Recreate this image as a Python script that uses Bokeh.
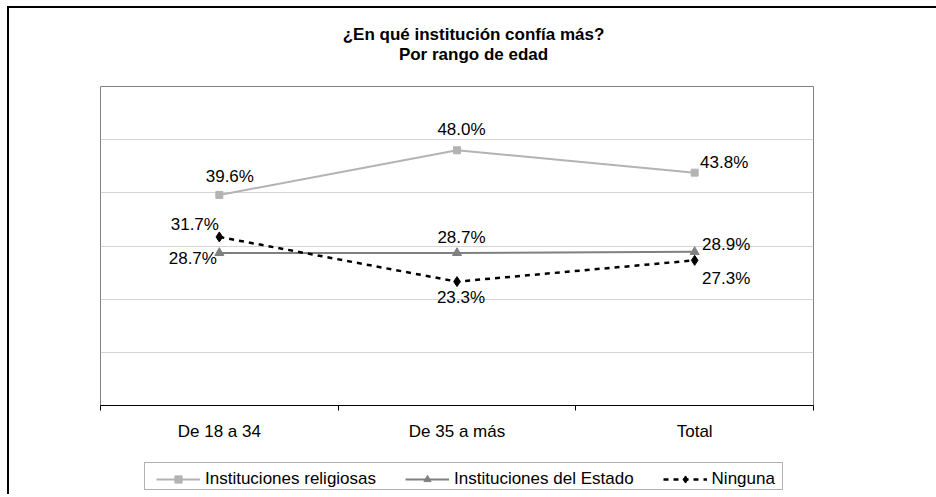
from bokeh.plotting import figure
from bokeh.layouts import column
from bokeh.models import (Range1d, FixedTicker, Legend, LegendItem,
                          ColumnDataSource, BoxAnnotation)
from bokeh.core.properties import value
from bokeh.embed import file_html
from bokeh.resources import INLINE

# ---- data -------------------------------------------------------------
categories = ["De 18 a 34", "De 35 a más", "Total"]
religiosas = [39.6, 48.0, 43.8]
estado = [28.7, 28.7, 28.9]
ninguna = [31.7, 23.3, 27.3]
series_names = ["Instituciones religiosas", "Instituciones del Estado", "Ninguna"]
title_lines = ["¿En qué institución confía más?", "Por rango de edad"]
y_grid_ticks = [10, 20, 30, 40, 50]
y_max = 60

# ---- label placement (screen px offsets, y down) ------------------------
label_dx = {
    "rel": [10.5, 4.5, 29.5],
    "est": [-26.5, 4.5, 31.5],
    "nin": [-24.5, 4.0, 31.5],
}
label_dy = {
    "rel": [-18, -21, -10],
    "est": [6, -15, -7],
    "nin": [-12, 16, 18],
}

FONT = "Liberation Sans"
W = 928
TITLE_H = 76
H = 364
LEG_H = 46
FL, FR, FT, FB = 91, 124, 2, 43
FRAME_W = W - FL - FR
PAGE_X0 = 8 + FL          # page x of the (aligned) frame's left edge
LEG_Y0 = 8 + TITLE_H + H  # page y of the legend strip's top

# ---- title strip (frame is aligned with the main chart's frame) ---------
tf = figure(width=W, height=TITLE_H, output_backend="svg", toolbar_location=None,
            x_range=Range1d(0, FRAME_W), y_range=Range1d(TITLE_H, 0),
            x_axis_location=None, y_axis_location=None,
            min_border_left=FL, min_border_right=FR, min_border_top=0, min_border_bottom=0)
tf.outline_line_color = None
tf.xgrid.visible = False
tf.ygrid.visible = False
title_cx = 472 - PAGE_X0
tsrc = ColumnDataSource(dict(x=[title_cx, title_cx], y=[26, 46], t=title_lines))
tf.text("x", "y", text="t", source=tsrc, text_font=value(FONT), text_font_size="17px",
        text_font_style="bold", text_color="#000000",
        text_align="center", text_baseline="middle")

# ---- main chart ---------------------------------------------------------
xs = list(range(len(categories)))

p = figure(width=W, height=H, output_backend="svg", toolbar_location=None,
           x_range=Range1d(-0.5, len(categories) - 0.5),
           y_range=Range1d(0, y_max), y_axis_location=None,
           min_border_left=FL, min_border_right=FR,
           min_border_top=FT, min_border_bottom=FB)
p.background_fill_color = "white"
p.border_fill_color = "white"
p.outline_line_color = "#808080"
p.outline_line_width = 1

p.xgrid.visible = False
p.ygrid.ticker = FixedTicker(ticks=y_grid_ticks)
p.ygrid.grid_line_color = "#D4D4D4"
p.ygrid.grid_line_width = 1

ax = p.xaxis[0]
ax.ticker = FixedTicker(ticks=xs, minor_ticks=[i - 0.5 for i in range(len(categories) + 1)])
ax.major_label_overrides = {i: c for i, c in zip(xs, categories)}
ax.axis_line_color = "#000000"
ax.axis_line_width = 1
ax.major_tick_line_color = None
ax.major_tick_in = 0
ax.major_tick_out = 0
ax.minor_tick_in = 0
ax.minor_tick_out = 5
ax.minor_tick_line_color = "#000000"
ax.minor_tick_line_width = 1
ax.major_label_text_font = FONT
ax.major_label_text_font_size = "17px"
ax.major_label_text_color = "#000000"
ax.major_label_standoff = 11

series = [
    ("rel", religiosas, "#B3B3B3", "square", 7, None, 2),
    ("est", estado, "#808080", "triangle", 9, None, 2),
    ("nin", ninguna, "#000000", "diamond", 10, "5 5", 2.5),
]

# ---- legend strip (frame aligned with main chart's frame; pixel ranges) --
lf = figure(width=W, height=LEG_H, output_backend="svg", toolbar_location=None,
            x_range=Range1d(0, FRAME_W), y_range=Range1d(LEG_H, 0),
            x_axis_location=None, y_axis_location=None,
            min_border_left=FL, min_border_right=FR, min_border_top=0, min_border_bottom=0)
lf.outline_line_color = None
lf.xgrid.visible = False
lf.ygrid.visible = False
lf.extra_x_ranges = {"hide": Range1d(100, 101)}
lf.extra_y_ranges = {"hide": Range1d(100, 101)}

# legend frame box
lf.add_layout(BoxAnnotation(left=143 - PAGE_X0, right=781 - PAGE_X0,
                            top=462 - LEG_Y0, bottom=489 - LEG_Y0,
                            fill_color=None, fill_alpha=0,
                            line_color="#000000", line_width=1))

items = []
for (key, vals, color, marker, msize, dash, lw), name in zip(series, series_names):
    src = ColumnDataSource(dict(
        x=xs, y=vals,
        txt=[f"{v:.1f}%" for v in vals],
        dx=label_dx[key], dy=label_dy[key],
    ))
    kw = {}
    if dash:
        kw["line_dash"] = dash
    p.line("x", "y", source=src, line_color=color, line_width=lw, **kw)
    p.scatter("x", "y", source=src, marker=marker, size=msize,
              fill_color=color, line_color=color)
    p.text("x", "y", text="txt", source=src, x_offset="dx", y_offset="dy",
           text_font=value(FONT), text_font_size="17px", text_color="#000000",
           text_align="center", text_baseline="middle")
    # same series in the legend strip, on hidden ranges, for legend samples
    llr = lf.line("x", "y", source=src, line_color=color, line_width=lw,
                  x_range_name="hide", y_range_name="hide", **kw)
    lsr = lf.scatter("x", "y", source=src, marker=marker, size=msize,
                     fill_color=color, line_color=color,
                     x_range_name="hide", y_range_name="hide")
    items.append(LegendItem(label=name, renderers=[llr, lsr]))

legend = Legend(items=items, orientation="horizontal", location=(155 - PAGE_X0, 5),
                border_line_color=None, background_fill_alpha=0,
                label_text_font=FONT, label_text_font_size="17px",
                label_text_color="#000000",
                glyph_width=44, glyph_height=18, label_height=18,
                label_standoff=5, spacing=29, padding=3, margin=0)
lf.add_layout(legend)

lay = column(tf, p, lf, spacing=0)
lay.styles = {"margin-left": "7px", "margin-top": "6px",
              "border-left": "2px solid #000000", "border-top": "2px solid #000000"}

open("out.html", "w").write(file_html(lay, INLINE))
